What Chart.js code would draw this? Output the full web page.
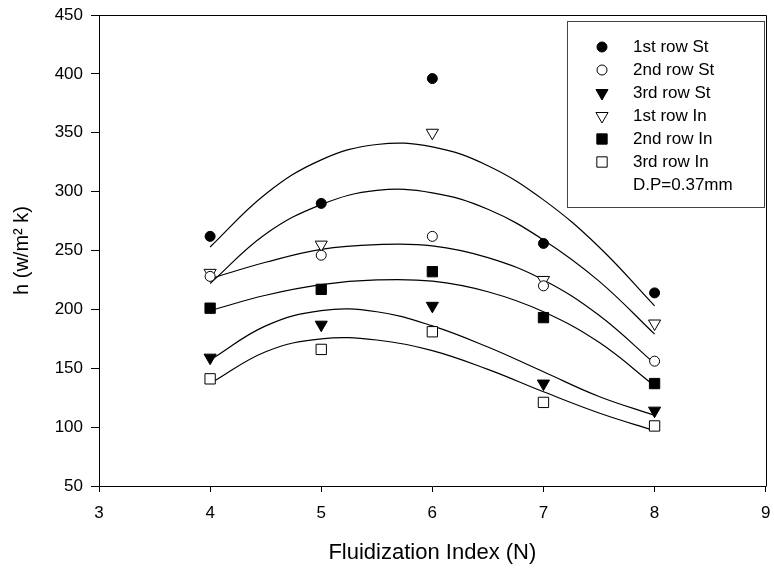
<!DOCTYPE html>
<html><head><meta charset="utf-8">
<script src="https://cdn.jsdelivr.net/npm/chart.js@4/dist/chart.umd.min.js"></script>
<style>html,body{margin:0;padding:0;background:#fff}canvas{display:block}</style>
</head><body>
<canvas id="c" width="774" height="568"></canvas>
<script>
// ---- data ----
const xValues = [4, 5, 6, 7, 8];
const row1St = [262, 290, 396, 256, 214];
const row2St = [228, 246, 262, 220, 156];
const row3St = [159, 187, 203, 137, 114];
const row1In = [231, 255, 350, 225, 188];
const row2In = [201, 217, 232, 193, 137];
const row3In = [141, 166, 181, 121, 101];

// fitted curves
const fitX = [4, 4.5, 5, 5.5, 6, 6.5, 7, 7.5, 8];
const fit1St = [253, 298, 327, 340, 338, 322, 293, 253, 203];
const fit1In = [222, 264, 289, 301, 299, 285, 259, 224, 179];
const fit2St = [226, 240, 251, 255, 254, 244, 225, 195, 154];
const fit2In = [199, 212, 221, 225, 224, 215, 198, 172, 135];
const fit3St = [157, 186, 199, 198, 186, 168, 147, 126, 110];
const fit3In = [137, 164, 175, 174, 165, 149, 130, 112, 97];

const xTicks = [3, 4, 5, 6, 7, 8, 9];
const yTicks = [50, 100, 150, 200, 250, 300, 350, 400, 450];
const seriesLabels = ['1st row St', '2nd row St', '3rd row St', '1st row In', '2nd row In', '3rd row In'];
const legendNote = 'D.P=0.37mm';
const xTitle = 'Fluidization Index (N)';
const yTitle = 'h (w/m\u00B2 k)';

const FONT = '"Liberation Sans", Arial, Helvetica, sans-serif';
const pts = arr => xValues.map((x, i) => ({x, y: arr[i]}));
const fit = arr => fitX.map((x, i) => ({x, y: arr[i]}));

const markerDefs = [
  {style: 'circle', rot: 0, r: 5, fill: '#000'},
  {style: 'circle', rot: 0, r: 5, fill: '#fff'},
  {style: 'triangle', rot: 180, r: 7, fill: '#000'},
  {style: 'triangle', rot: 180, r: 7, fill: '#fff'},
  {style: 'rect', rot: 0, r: 7.3, fill: '#000'},
  {style: 'rect', rot: 0, r: 7.3, fill: '#fff'}
];
const seriesData = [row1St, row2St, row3St, row1In, row2In, row3In];

const pointSets = seriesData.map((arr, i) => ({
  label: seriesLabels[i],
  data: pts(arr),
  inLegend: true,
  showLine: false,
  pointStyle: markerDefs[i].style,
  pointRotation: markerDefs[i].rot,
  pointRadius: markerDefs[i].r,
  pointBackgroundColor: markerDefs[i].fill,
  pointBorderColor: '#000',
  pointBorderWidth: 1,
  markerDef: markerDefs[i]
}));

const fitSets = [fit1St, fit1In, fit2St, fit2In, fit3St, fit3In].map(arr => ({
  label: '',
  data: fit(arr),
  showLine: true,
  pointRadius: 0,
  borderColor: '#000',
  borderWidth: 1.2,
  tension: 0.4,
  fill: false
}));

function drawMarker(ctx, m, x, y) {
  ctx.beginPath();
  if (m.style === 'circle') {
    ctx.arc(x, y, m.r, 0, Math.PI * 2);
  } else if (m.style === 'triangle') {
    const s = m.r * Math.sin(Math.PI / 3);
    ctx.moveTo(x, y + m.r);
    ctx.lineTo(x - s, y - m.r / 2);
    ctx.lineTo(x + s, y - m.r / 2);
    ctx.closePath();
  } else {
    const h = m.r * Math.SQRT1_2;
    ctx.rect(x - h, y - h, 2 * h, 2 * h);
  }
  ctx.fillStyle = m.fill;
  ctx.fill();
  ctx.strokeStyle = '#000';
  ctx.lineWidth = 1;
  ctx.stroke();
}

const framePlugin = {
  id: 'frame',
  afterDraw(chart) {
    const {ctx, chartArea: a} = chart;
    ctx.save();
    ctx.strokeStyle = '#000';
    ctx.lineWidth = 1;
    ctx.beginPath();
    ctx.moveTo(Math.round(a.left) + 0.5, Math.round(a.top) + 0.5);
    ctx.lineTo(Math.round(a.right) + 0.5, Math.round(a.top) + 0.5);
    ctx.lineTo(Math.round(a.right) + 0.5, Math.round(a.bottom) + 0.5);
    ctx.stroke();
    ctx.restore();
  }
};

const legendPlugin = {
  id: 'boxLegend',
  afterDraw(chart) {
    const {ctx, chartArea: a} = chart;
    const w = 197, h = 186;
    const left = Math.round(a.right) - 199, top = Math.round(a.top) + 6;
    ctx.save();
    ctx.fillStyle = '#fff';
    ctx.fillRect(left, top, w, h);
    ctx.strokeStyle = '#444';
    ctx.lineWidth = 1;
    ctx.strokeRect(left + 0.5, top + 0.5, w, h);
    ctx.font = '17px ' + FONT;
    ctx.textBaseline = 'middle';
    ctx.textAlign = 'left';
    const items = chart.data.datasets.filter(d => d.inLegend);
    items.forEach((ds, i) => {
      const y = top + 26 + i * 23;
      drawMarker(ctx, ds.markerDef, left + 35, y);
      ctx.fillStyle = '#000';
      ctx.fillText(ds.label, left + 66, y);
    });
    ctx.fillStyle = '#000';
    ctx.fillText(legendNote, left + 66, top + 26 + items.length * 23);
    ctx.restore();
  }
};

new Chart(document.getElementById('c'), {
  type: 'scatter',
  data: {datasets: [...pointSets, ...fitSets]},
  options: {
    responsive: false,
    animation: false,
    devicePixelRatio: 1,
    layout: {padding: {top: 15, right: 5, left: 0, bottom: 0}},
    plugins: {legend: {display: false}, tooltip: {enabled: false}},
    scales: {
      x: {
        type: 'linear', min: 3, max: 9,
        afterBuildTicks: s => { s.ticks = xTicks.map(v => ({value: v})); },
        afterFit: s => { s.height = 82; s.paddingLeft = 0; s.paddingRight = 0; },
        ticks: {color: '#000', font: {family: FONT, size: 17}, padding: 11, maxRotation: 0, callback: v => String(v)},
        grid: {drawOnChartArea: false, drawTicks: true, tickLength: 6, color: '#000', lineWidth: 1},
        border: {display: true, color: '#000', width: 1},
        title: {display: true, text: xTitle, color: '#000', font: {family: FONT, size: 22}, padding: {top: 0, bottom: 2}}
      },
      y: {
        type: 'linear', min: 50, max: 450,
        afterBuildTicks: s => { s.ticks = yTicks.map(v => ({value: v})); },
        afterFit: s => { s.width = 99; s.paddingTop = 0; s.paddingBottom = 0; },
        ticks: {color: '#000', font: {family: FONT, size: 17}, padding: 8, callback: v => String(v)},
        grid: {drawOnChartArea: false, drawTicks: true, tickLength: 8, color: '#000', lineWidth: 1},
        border: {display: true, color: '#000', width: 1},
        title: {display: true, text: yTitle, color: '#000', font: {family: FONT, size: 20}, padding: {top: 10, bottom: 0}}
      }
    }
  },
  plugins: [framePlugin, legendPlugin]
});
</script>
</body></html>
